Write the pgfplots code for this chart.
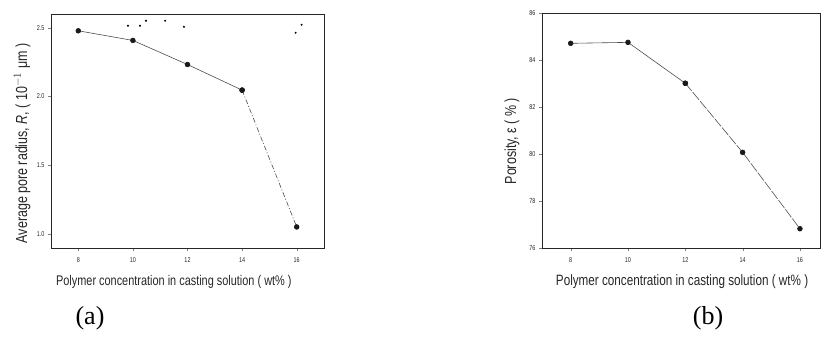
\documentclass[border=0pt]{standalone}
\usepackage{fontspec}
\setmainfont{Liberation Sans}
\newfontfamily\nar[FakeStretch=0.78]{Liberation Sans}
\newfontfamily\ser{Liberation Serif}
\usepackage{pgfplots}
\pgfplotsset{compat=1.18}
\begin{document}
\begin{tikzpicture}[x=1bp,y=1bp]
\useasboundingbox (0,0) rectangle (822,348);
\pgfplotsset{
  panel/.style={
    scale only axis, anchor=south west,
    xmin=7, xtick={8,10,12,14,16},
    tick align=outside, xtick pos=bottom, ytick pos=left,
    major tick length=3bp,
    /pgf/number format/assume math mode=true,
    tick label style={font=\nar\fontsize{7bp}{8bp}\selectfont, text=black!85},
    xticklabel style={yshift=-3bp},
    axis line style={line width=0.9pt, black!85},
    label style={font=\nar\fontsize{14bp}{16bp}\selectfont, text=black!85},
  },
  ln/.style={black!70, line width=0.6pt, mark=*, mark size=2.4bp, mark options={solid, fill=black!90, draw=black!90}},
}
\begin{axis}[panel, at={(51bp,100bp)}, width=273bp, height=234bp,
  xmax=17, ymin=0.9, ymax=2.6, ytick={1.0,1.5,2.0,2.5},
  yticklabel style={/pgf/number format/.cd, fixed, fixed zerofill, precision=1},
  xlabel={Polymer concentration in casting solution ( wt\% )},
  xlabel style={at={(axis description cs:0.45,-0.145)}, anchor=center},
  ylabel={Average pore radius, \textit{R}, ( 10$^{-1}$ μm )},
  ylabel style={at={(axis description cs:-0.106,0.447)}, anchor=center, font=\nar\fontsize{16bp}{18bp}\selectfont}]
\addplot[ln] coordinates {(8,2.478) (10,2.408) (12,2.233) (14,2.047)};
\addplot[ln, dash pattern=on 5bp off 2bp on 1bp off 2bp] coordinates {(14,2.047) (16,1.053)};
\addplot[only marks, mark=*, mark size=0.8bp, black] coordinates {(9.82,2.515) (10.26,2.515) (10.48,2.551) (11.18,2.551) (11.87,2.507) (15.96,2.464) (16.18,2.522)};
\end{axis}
\begin{axis}[panel, at={(542bp,100bp)}, width=278bp, height=235bp,
  xmax=16.7, ymin=76, ymax=86, ytick={76,78,80,82,84,86},
  xlabel={Polymer concentration in casting solution ( wt\% )},
  xlabel style={at={(axis description cs:0.504,-0.145)}, anchor=center, font=\nar\fontsize{15bp}{17bp}\selectfont},
  ylabel={Porosity, ε ( \% )},
  ylabel style={at={(axis description cs:-0.108,0.455)}, anchor=center, font=\nar\fontsize{16bp}{18bp}\selectfont}]
\addplot[ln] coordinates {(8,84.71) (10,84.75) (12,83.01)};
\addplot[ln, dash pattern=on 10bp off 1.5bp] coordinates {(12,83.01) (14,80.07) (16,76.82)};
\end{axis}
\node[font=\ser\fontsize{26bp}{30bp}\selectfont] at (90,30) {(a)};
\node[font=\ser\fontsize{26bp}{30bp}\selectfont] at (708,30) {(b)};
\end{tikzpicture}
\end{document}
